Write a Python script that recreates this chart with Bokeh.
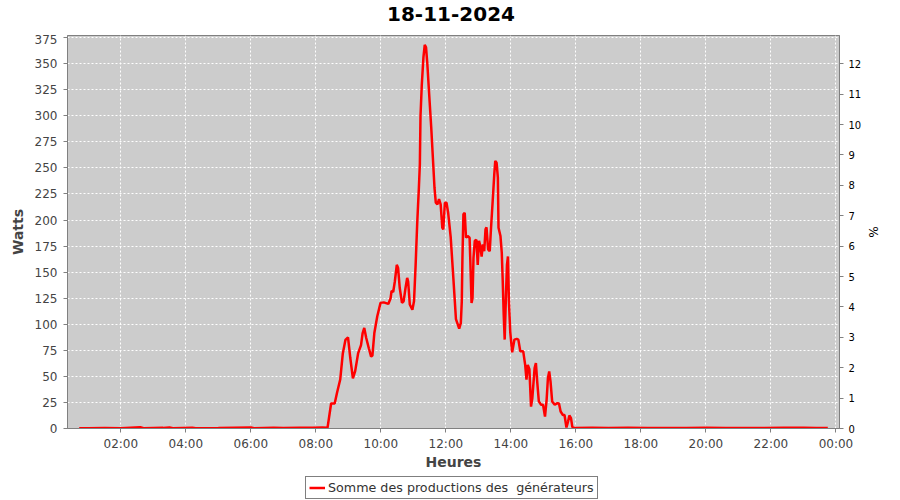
from bokeh.plotting import figure
from bokeh.layouts import column
from bokeh.models import Range1d, LinearAxis, FixedTicker, Legend, LegendItem, ColumnDataSource, Label
from bokeh.embed import file_html
from bokeh.resources import INLINE

titre = "18-11-2024"
serie_nom = "Somme des productions des  générateurs"

# time of day (decimal hours) and power (W)
heures = [0.72, 1.0, 1.5, 2.0, 2.6, 2.7, 3.3, 3.5, 3.6, 4.2, 4.3, 5.0, 5.5, 6.0, 6.1, 6.7, 7.0,
          7.5, 7.9, 8.2, 8.36, 8.47, 8.58, 8.65, 8.75, 8.83, 8.91, 8.99, 9.06, 9.14, 9.21, 9.30,
          9.39, 9.44, 9.49, 9.55, 9.63, 9.70, 9.74, 9.80, 9.89, 9.99, 10.09, 10.23, 10.30, 10.33,
          10.38, 10.43, 10.49, 10.53, 10.58, 10.65, 10.70, 10.76, 10.81, 10.84, 10.89, 10.97,
          11.02, 11.07, 11.12, 11.17, 11.20, 11.22, 11.26, 11.31, 11.35, 11.39, 11.43, 11.48,
          11.55, 11.60, 11.65, 11.69, 11.74, 11.79, 11.84, 11.89, 11.92, 11.97, 12.02, 12.07,
          12.15, 12.23, 12.31, 12.41, 12.46, 12.49, 12.51, 12.54, 12.58, 12.62, 12.67, 12.73,
          12.75, 12.79, 12.82, 12.85, 12.89, 12.94, 12.98, 13.02, 13.06, 13.10, 13.14, 13.18,
          13.22, 13.25, 13.30, 13.35, 13.39, 13.44, 13.49, 13.52, 13.56, 13.60, 13.62, 13.68,
          13.72, 13.75, 13.78, 13.81, 13.85, 13.88, 13.91, 13.94, 13.98, 14.04, 14.11, 14.18,
          14.23, 14.29, 14.38, 14.44, 14.48, 14.52, 14.57, 14.62, 14.66, 14.73, 14.77, 14.81,
          14.86, 14.93, 14.99, 15.05, 15.10, 15.14, 15.18, 15.22, 15.27, 15.35, 15.43, 15.48,
          15.53, 15.60, 15.65, 15.71, 15.76, 15.80, 15.85, 15.89, 15.95, 16.5, 17.0, 17.6, 18.2,
          18.8, 19.4, 20.0, 20.6, 21.2, 21.8, 22.4, 23.0, 23.4, 23.75]
watts = [0.3, 0.3, 0.5, 0.3, 1.2, 0.3, 0.6, 1.0, 0.3, 0.8, 0.3, 0.4, 0.8, 1.0, 0.3, 0.8, 0.5,
         0.7, 0.8, 1.0, 0.8, 24, 24, 34, 47, 72, 85, 87.5, 67.6, 48, 55, 72,
         80, 91.6, 96.4, 86.8, 77, 69, 70, 91.6, 107.7, 120.5, 121, 119.5, 125, 132,
         131, 141, 157, 154, 135, 120.5, 122, 135, 144.5, 141, 119, 114,
         122, 157, 198, 231, 253.5, 300, 330, 356, 368, 365.7, 349.7, 324,
         288.7, 260, 231, 216.6, 215, 220, 215, 192.6, 191, 216.6, 216.6, 207,
         183, 144.5, 105, 95.9, 101, 122, 163.7, 205.5, 207, 183, 184.6, 183,
         163.7, 120.5, 125, 163.7, 180, 181, 157, 180, 175, 165, 176.6, 170,
         191, 193, 171.8, 170, 192.6, 218, 244, 256.7, 255, 240.7, 192.6, 184.6,
         168.6, 141, 109, 85.3, 128.5, 157, 165, 122, 93, 73, 85.3, 86,
         85.3, 74, 74, 61, 46.8, 61, 57, 21, 29, 58, 62.8, 45,
         26, 22.8, 22.8, 11.5, 27.6, 48.4, 54.8, 45, 26, 22.8, 24.3, 24,
         16.3, 13, 13, 1, 6.7, 12.5, 10, 1.6, 0.5, 0.8, 0.4, 0.6, 0.4,
         0.5, 0.4, 0.6, 0.4, 0.5, 0.4, 0.6, 0.8, 0.5, 0.4]

tick_heures = [2, 4, 6, 8, 10, 12, 14, 16, 18, 20, 22, 24]
tick_labels = ["02:00", "04:00", "06:00", "08:00", "10:00", "12:00",
               "14:00", "16:00", "18:00", "20:00", "22:00", "00:00"]
watts_ticks = [0, 25, 50, 75, 100, 125, 150, 175, 200, 225, 250, 275, 300, 325, 350, 375]
pct_ticks = [0, 1, 2, 3, 4, 5, 6, 7, 8, 9, 10, 11, 12]

FONT = "DejaVu Sans"
GREY = "#444444"
AXIS = "#808080"
RED = "#ff0000"
NAN = float("nan")

def strip(height):
    f = figure(width=900, height=height, x_range=Range1d(0, 1), y_range=Range1d(0, 1),
               output_backend="svg", toolbar_location=None,
               min_border_left=67, min_border_right=61, min_border_top=0, min_border_bottom=0,
               background_fill_color="white", border_fill_color="white", outline_line_color=None)
    f.axis.visible = False
    f.grid.visible = False
    return f

# title strip
h = strip(34)
h.add_layout(Label(x=383.5, y=20.5, x_units="screen", y_units="screen", text=titre,
                   text_font=FONT, text_font_size="20px", text_font_style="bold",
                   text_color="black", text_align="center", text_baseline="middle"))

# main chart
p = figure(frame_width=772, frame_height=393, x_range=Range1d(0.36, 24.11), y_range=Range1d(0, 377),
           output_backend="svg", toolbar_location=None,
           min_border_left=67, min_border_right=61, min_border_top=1, min_border_bottom=42,
           background_fill_color="#cccccc", border_fill_color="white",
           outline_line_color=AXIS, outline_line_width=1)

src = ColumnDataSource(dict(h=heures, w=watts))
p.line("h", "w", source=src, line_color=RED, line_width=2.5)

for g in (p.xgrid, p.ygrid):
    g.grid_line_color = "white"
    g.grid_line_dash = "2 2"
    g.grid_line_width = 1

p.xaxis.ticker = FixedTicker(ticks=tick_heures)
p.xaxis.major_label_overrides = {t: l for t, l in zip(tick_heures, tick_labels)}
p.xaxis.axis_label = "Heures"
p.yaxis.ticker = FixedTicker(ticks=watts_ticks)
p.yaxis.axis_label = "Watts"

for ax in (p.xaxis[0], p.yaxis[0]):
    ax.axis_line_color = AXIS
    ax.major_tick_line_color = AXIS
    ax.minor_tick_line_color = None
    ax.major_tick_in = 0
    ax.major_tick_out = 4
    ax.major_label_text_font = FONT
    ax.major_label_text_font_size = "12px"
    ax.major_label_text_color = GREY
    ax.axis_label_text_font = FONT
    ax.axis_label_text_font_size = "14px"
    ax.axis_label_text_font_style = "bold"
    ax.axis_label_text_color = GREY
p.xaxis.major_label_standoff = 4
p.xaxis.axis_label_standoff = 0
p.yaxis.major_label_standoff = 6
p.yaxis.axis_label_standoff = 6

p.extra_y_ranges = {"pct": Range1d(0, 12.93)}
rax = LinearAxis(y_range_name="pct", ticker=FixedTicker(ticks=pct_ticks), axis_label="%")
rax.axis_line_color = AXIS
rax.major_tick_line_color = AXIS
rax.minor_tick_line_color = None
rax.major_tick_in = 0
rax.major_tick_out = 4
rax.major_label_standoff = 5
rax.major_label_text_font = FONT
rax.major_label_text_font_size = "10px"
rax.major_label_text_color = "black"
rax.axis_label_text_font = FONT
rax.axis_label_text_font_size = "12px"
rax.axis_label_text_font_style = "normal"
rax.axis_label_text_color = "black"
rax.axis_label_standoff = 2
p.add_layout(rax, "right")

# legend strip below the chart
q = strip(30)
key = q.line(x=[NAN, NAN], y=[NAN, NAN], line_color=RED, line_width=2.5)
legend = Legend(items=[LegendItem(label=serie_nom, renderers=[key])], location=(238, 3),
                orientation="horizontal", border_line_color="black", border_line_width=1,
                background_fill_color="white", background_fill_alpha=1.0,
                label_text_font=FONT, label_text_font_size="12.7px", label_text_color="#333333",
                glyph_width=16, glyph_height=13, padding=3, margin=0, label_standoff=3,
                label_height=15)
q.add_layout(legend)

page = column(h, p, q, spacing=0)
open("out.html", "w").write(file_html(page, INLINE))
